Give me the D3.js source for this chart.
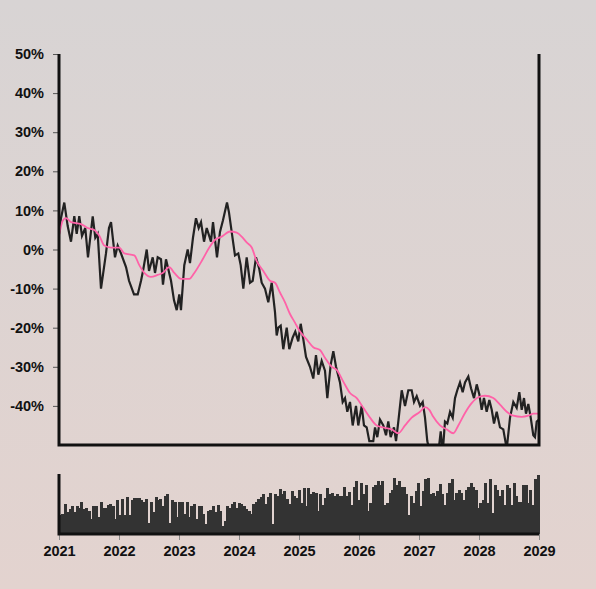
<!DOCTYPE html>
<html>
<head>
<meta charset="utf-8">
<script src="https://cdn.jsdelivr.net/npm/d3@7"></script>
<style>
  html, body { margin: 0; padding: 0; }
  svg { display: block; }
  text { font-family: "Liberation Sans", Arial, sans-serif; font-weight: bold; }
</style>
</head>
<body>
<svg width="596" height="589"></svg>
<script>

// price change (%) vs decimal year
var price = [
  [2021.000, 4], [2021.033, 8], [2021.088, 12], [2021.145, 6], [2021.200, 2], [2021.255, 8.5],
  [2021.295, 4], [2021.338, 8.5], [2021.383, 3.5], [2021.438, 5.5], [2021.483, -2], [2021.562, 8.5],
  [2021.605, 3], [2021.645, 4], [2021.700, -10], [2021.783, -1], [2021.833, 5.5], [2021.867, 7],
  [2021.933, -2], [2021.978, 1], [2022.033, -1], [2022.117, -4.5], [2022.167, -8], [2022.250, -11.5],
  [2022.312, -11.5], [2022.367, -8], [2022.400, -5.5], [2022.462, 0], [2022.500, -5.5], [2022.562, -2],
  [2022.600, -6], [2022.645, -2], [2022.700, -2.5], [2022.733, -9], [2022.783, -2.5], [2022.867, -8],
  [2022.917, -13], [2022.962, -15.5], [2023.005, -11.5], [2023.033, -15.5], [2023.088, -4], [2023.145, 0],
  [2023.183, -3.5], [2023.233, 3], [2023.283, 8], [2023.328, 5.5], [2023.367, 7], [2023.417, 2],
  [2023.462, 5.5], [2023.533, 2], [2023.567, 7], [2023.633, -2], [2023.683, 4.5], [2023.733, 7.5],
  [2023.800, 12], [2023.833, 9.5], [2023.878, 4.5], [2023.933, -1.5], [2023.988, -1], [2024.028, -4],
  [2024.072, -10], [2024.128, -2], [2024.183, -8.5], [2024.228, -8], [2024.283, -2], [2024.338, -5],
  [2024.378, -8.5], [2024.433, -10], [2024.488, -13.5], [2024.545, -8.5], [2024.600, -16], [2024.628, -22],
  [2024.655, -20], [2024.695, -19.5], [2024.738, -25.5], [2024.795, -20], [2024.838, -25.5], [2024.895, -22.5],
  [2024.938, -21], [2024.988, -23.5], [2025.028, -19], [2025.072, -23], [2025.117, -27.5], [2025.183, -30],
  [2025.238, -33], [2025.283, -27], [2025.322, -32], [2025.378, -28.5], [2025.433, -31], [2025.472, -38],
  [2025.528, -29.5], [2025.572, -26], [2025.617, -30], [2025.683, -34], [2025.728, -39], [2025.767, -38],
  [2025.805, -41.5], [2025.850, -39], [2025.895, -45], [2025.950, -40], [2025.988, -45], [2026.045, -40],
  [2026.083, -45], [2026.128, -45.5], [2026.172, -49], [2026.238, -49], [2026.267, -45.5], [2026.305, -48],
  [2026.350, -43.5], [2026.405, -45], [2026.450, -47.5], [2026.488, -44], [2026.528, -48], [2026.583, -45.5],
  [2026.617, -49], [2026.655, -44], [2026.712, -36], [2026.767, -40], [2026.822, -36], [2026.878, -36],
  [2026.917, -39], [2026.962, -37.5], [2027.017, -40], [2027.062, -39], [2027.100, -43], [2027.138, -49],
  [2027.183, -52], [2027.267, -52], [2027.322, -52], [2027.362, -46.5], [2027.395, -52], [2027.433, -44],
  [2027.472, -44.5], [2027.517, -41.5], [2027.562, -43], [2027.600, -38], [2027.638, -36], [2027.683, -34],
  [2027.728, -36.5], [2027.767, -34], [2027.822, -32.5], [2027.867, -35.5], [2027.917, -38], [2027.962, -34.5],
  [2028.005, -37], [2028.045, -41], [2028.083, -38], [2028.128, -41.5], [2028.172, -38.5], [2028.212, -41],
  [2028.250, -44.5], [2028.295, -41.5], [2028.350, -45.5], [2028.405, -46], [2028.462, -51], [2028.517, -43],
  [2028.572, -39], [2028.628, -40.5], [2028.672, -36.5], [2028.712, -41], [2028.750, -38], [2028.783, -42],
  [2028.822, -39.5], [2028.862, -43], [2028.905, -47.5], [2028.933, -48], [2028.962, -44], [2029.000, -43.5]
];

// moving-average line (pink)
var average = [
  [2021.000, 3.5], [2021.067, 7.5], [2021.117, 8], [2021.200, 7], [2021.367, 6.5], [2021.478, 5.5],
  [2021.588, 5], [2021.672, 3.5], [2021.755, 1], [2021.867, 0.5], [2022.005, 0.5], [2022.088, -1],
  [2022.255, -1.5], [2022.338, -4], [2022.422, -6], [2022.533, -7], [2022.645, -6.5], [2022.728, -6],
  [2022.838, -4.5], [2022.922, -6], [2023.033, -7.5], [2023.172, -7.5], [2023.255, -6], [2023.395, -2.5],
  [2023.505, 0.5], [2023.600, 2.5], [2023.712, 3.3], [2023.850, 4.6], [2023.962, 4.3], [2024.045, 3.3],
  [2024.128, 1.8], [2024.212, 0.5], [2024.295, -3], [2024.405, -5.5], [2024.517, -8], [2024.600, -8.5],
  [2024.683, -11], [2024.767, -13.5], [2024.850, -16.5], [2024.933, -18.7], [2025.017, -21], [2025.128, -23],
  [2025.238, -25], [2025.350, -25.7], [2025.433, -27.7], [2025.545, -30], [2025.628, -30.8], [2025.738, -33.8],
  [2025.850, -36.7], [2025.962, -38], [2026.072, -40.5], [2026.183, -43], [2026.295, -45], [2026.433, -45.6],
  [2026.545, -46], [2026.655, -47], [2026.767, -45], [2026.878, -43], [2027.017, -41.5], [2027.100, -40.3],
  [2027.172, -41], [2027.238, -42.8], [2027.350, -45], [2027.462, -46], [2027.572, -47], [2027.655, -45],
  [2027.767, -41.8], [2027.878, -39.3], [2027.988, -37.8], [2028.100, -37.4], [2028.238, -38], [2028.350, -39.7],
  [2028.462, -41.5], [2028.572, -42.5], [2028.712, -42.8], [2028.822, -42.5], [2028.905, -42], [2029.000, -42]
];

// volume, evenly spaced bars from 2021 to 2029 (relative units)
var volume = [
  31, 33, 50, 36, 42, 46, 36, 47, 44, 53, 42, 44, 39, 25, 46, 47, 28, 54, 44, 43,
  49, 50, 47, 25, 56, 31, 58, 31, 61, 31, 56, 60, 60, 60, 56, 54, 58, 19, 53, 36,
  62, 57, 58, 47, 64, 66, 19, 57, 53, 28, 53, 54, 33, 54, 28, 47, 50, 25, 47, 47,
  33, 17, 39, 40, 47, 36, 49, 39, 14, 22, 47, 44, 50, 54, 44, 51, 50, 47, 42, 39,
  33, 50, 53, 58, 62, 66, 50, 61, 68, 17, 67, 64, 75, 67, 72, 58, 50, 71, 64,
  60, 74, 52, 77, 46, 77, 66, 70, 68, 38, 66, 49, 60, 77, 66, 68, 63, 67, 64, 63,
  79, 63, 70, 49, 79, 88, 57, 85, 66, 82, 38, 52, 79, 82, 88, 82, 89, 49, 52, 68,
  74, 93, 82, 88, 79, 79, 66, 32, 63, 52, 71, 85, 46, 71, 91, 93, 66, 68, 63, 71,
  83, 66, 49, 68, 85, 91, 57, 68, 74, 68, 57, 74, 79, 85, 79, 74, 43, 52, 57, 85,
  52, 91, 35, 82, 74, 63, 74, 49, 82, 77, 49, 85, 63, 54, 54, 82, 82, 52, 74, 49,
  91, 98
];

var yTicks = [-40, -30, -20, -10, 0, 10, 20, 30, 40, 50];
var yearTicks = [2021, 2022, 2023, 2024, 2025, 2026, 2027, 2028, 2029];

var svg = d3.select("svg"),
    width = +svg.attr("width"),
    height = +svg.attr("height");

var left = 59, right = 539,
    mainTop = 54, mainBottom = 445,
    volTop = 474, volBottom = 534;

// background
var defs = svg.append("defs");
var grad = defs.append("linearGradient").attr("id", "bg")
    .attr("x1", 0).attr("y1", 0).attr("x2", 0).attr("y2", 1);
grad.append("stop").attr("offset", "0%").attr("stop-color", "#d8d4d4");
grad.append("stop").attr("offset", "100%").attr("stop-color", "#e3d3cf");
svg.append("rect").attr("width", width).attr("height", height).attr("fill", "url(#bg)");

defs.append("clipPath").attr("id", "clip")
  .append("rect").attr("x", left).attr("y", mainTop).attr("width", right - left).attr("height", mainBottom - mainTop);

var x = d3.scaleLinear().domain([2021, 2029]).range([left, right]);
var y = d3.scaleLinear().domain([-50, 50]).range([mainBottom, mainTop]);
var yv = d3.scaleLinear().domain([0, 100]).range([volBottom, volTop]);

// main lines
var line = d3.line()
    .x(function(d) { return x(d[0]); })
    .y(function(d) { return y(d[1]); });

var plot = svg.append("g").attr("clip-path", "url(#clip)");

plot.append("path")
    .datum(price)
    .attr("fill", "none")
    .attr("stroke", "#222")
    .attr("stroke-width", 2.2)
    .attr("d", line);

plot.append("path")
    .datum(average)
    .attr("fill", "none")
    .attr("stroke", "#ff62a8")
    .attr("stroke-width", 1.8)
    .attr("d", line.curve(d3.curveMonotoneX));

// main axes
var yAxis = svg.append("g")
    .attr("transform", "translate(" + left + ",0)")
    .call(d3.axisLeft(y).tickValues(yTicks).tickFormat(function(d) { return d + "%"; })
      .tickSize(6).tickSizeOuter(0).tickPadding(9));
yAxis.select(".domain").remove();
yAxis.selectAll(".tick line").attr("stroke", "#555");
yAxis.selectAll(".tick text").attr("fill", "#111").style("font-size", "14.5px");

svg.append("path")
    .attr("d", "M" + left + "," + mainTop + "V" + mainBottom + "H" + right + "V" + mainTop)
    .attr("fill", "none")
    .attr("stroke", "#111")
    .attr("stroke-width", 3);

// volume bars
var step = (right - left) / volume.length;
svg.append("g").selectAll("rect")
  .data(volume)
  .enter().append("rect")
    .attr("x", function(d, i) { return x(2021 + i * 8 / volume.length); })
    .attr("y", function(d) { return yv(d); })
    .attr("width", step + 0.6)
    .attr("height", function(d) { return volBottom - yv(d); })
    .attr("fill", "#333")
    .attr("shape-rendering", "crispEdges");

var xAxis = svg.append("g")
    .attr("transform", "translate(0," + volBottom + ")")
    .call(d3.axisBottom(x).tickValues(yearTicks).tickFormat(d3.format("d"))
      .tickSize(6).tickSizeOuter(0).tickPadding(6));
xAxis.select(".domain").remove();
xAxis.selectAll(".tick line").attr("stroke", "#888");
xAxis.selectAll(".tick text").attr("fill", "#111").style("font-size", "14.5px");

svg.append("path")
    .attr("d", "M" + left + "," + volTop + "V" + volBottom + "H" + right)
    .attr("fill", "none")
    .attr("stroke", "#111")
    .attr("stroke-width", 3);

</script>
</body>
</html>
